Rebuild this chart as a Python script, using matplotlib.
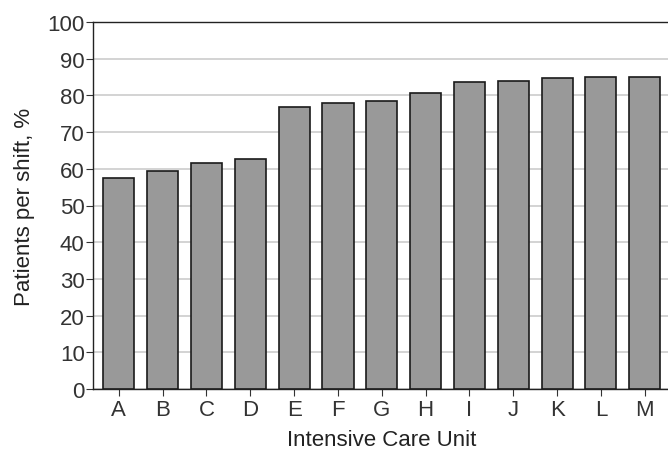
import matplotlib
matplotlib.use("Agg")
import matplotlib.pyplot as plt

plt.rcParams["font.family"] = ["Liberation Sans", "DejaVu Sans"]

# ICU units and share of patients per shift
units = ["A", "B", "C", "D", "E", "F", "G", "H", "I", "J", "K", "L", "M"]
patients_pct = [57.5, 59.4, 61.7, 62.6, 76.9, 78.0, 78.6, 80.6, 83.6, 84.0, 84.7, 84.9, 84.9]

W, H = 668, 452
fig = plt.figure(figsize=(W / 100, H / 100), dpi=100)
left, bottom, top = 93, 62, 23
ax = fig.add_axes([left / W, bottom / H, 578 / W, (H - bottom - top) / H])

x = range(len(units))
ax.bar(x, patients_pct, width=0.71, color="#999999", edgecolor="#1a1a1a",
       linewidth=1.2, zorder=3)

ax.set_xlim(-0.59, 12.6)
ax.set_ylim(0, 100)
ax.set_yticks(range(0, 101, 10))
ax.set_xticks(list(x))
ax.set_xticklabels(units)
ax.yaxis.grid(True, color="#cccccc", linewidth=1.2, zorder=0)
ax.set_axisbelow(True)

for s in ax.spines.values():
    s.set_color("#222222")
    s.set_linewidth(1.0)

ax.tick_params(axis="both", labelsize=16, colors="#333333", length=5,
               width=0.8, pad=1)
ax.tick_params(axis="x", pad=2)
ax.set_xlabel("Intensive Care Unit", fontsize=16, color="#222222", labelpad=7)
ax.set_ylabel("Patients per shift, %", fontsize=16, color="#222222", labelpad=9)

fig.savefig("out.png", dpi=100)
